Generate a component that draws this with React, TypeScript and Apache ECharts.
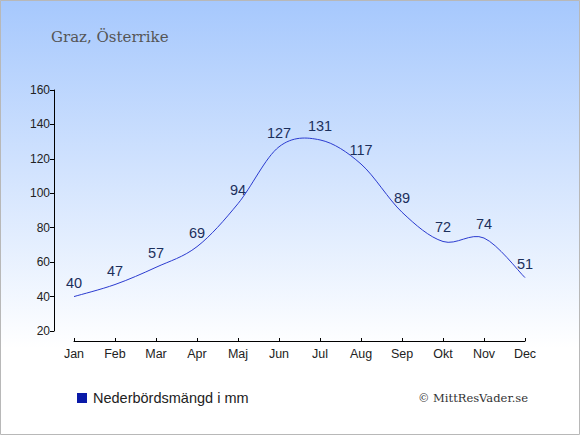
import React, { useEffect, useRef } from "react";
import * as echarts from "echarts";

const months = ["Jan", "Feb", "Mar", "Apr", "Maj", "Jun", "Jul", "Aug", "Sep", "Okt", "Nov", "Dec"];
const precipitation = [40, 47, 57, 69, 94, 127, 131, 117, 89, 72, 74, 51];
const titleText = "Graz, Österrike";
const legendText = "Nederbördsmängd i mm";
const creditText = "© MittResVader.se";

export default function App() {
  const ref = useRef<HTMLDivElement>(null);
  useEffect(() => {
    document.body.style.margin = "0";
    const chart = echarts.init(ref.current!, null, { renderer: "svg" });
    const renderCurve = (params: any, api: any) => {
      if (params.dataIndex !== 0) return null;
      const pts = precipitation.map((v, i) => api.coord([i, v]));
      const n = pts.length;
      let d = `M${pts[0][0]},${pts[0][1]}`;
      for (let i = 0; i < n - 1; i++) {
        const p0 = pts[Math.max(0, i - 1)];
        const p1 = pts[i];
        const p2 = pts[i + 1];
        const p3 = pts[Math.min(n - 1, i + 2)];
        const c1x = p1[0] + (p2[0] - p0[0]) / 6;
        const c1y = p1[1] + (p2[1] - p0[1]) / 6;
        const c2x = p2[0] - (p3[0] - p1[0]) / 6;
        const c2y = p2[1] - (p3[1] - p1[1]) / 6;
        d += ` C${c1x},${c1y} ${c2x},${c2y} ${p2[0]},${p2[1]}`;
      }
      return {
        type: "path",
        shape: { pathData: d },
        style: { fill: "none", stroke: "#2b3bd0", lineWidth: 1 },
      };
    };
    chart.setOption({
      animation: false,
      backgroundColor: {
        type: "linear",
        x: 0, y: 0, x2: 0, y2: 1,
        colorStops: [
          { offset: 0, color: "#a6c8fd" },
          { offset: 0.8, color: "#ffffff" },
          { offset: 1, color: "#ffffff" },
        ],
      },
      title: {
        text: titleText,
        left: 46,
        top: 24,
        textStyle: {
          fontFamily: "'DejaVu Serif', 'Liberation Serif', serif",
          fontWeight: "normal",
          fontSize: 15,
          color: "#555555",
        },
      },
      graphic: [
        {
          type: "rect",
          shape: { x: 0.5, y: 0.5, width: 579, height: 434 },
          style: { fill: "none", stroke: "#b8b8b8", lineWidth: 1 },
          silent: true,
        },
        {
          type: "rect",
          shape: { x: 77, y: 393, width: 10, height: 10 },
          style: { fill: "#0a1aa8" },
        },
        {
          type: "text",
          x: 93,
          y: 398,
          style: {
            text: legendText,
            fontFamily: "'Liberation Sans', Arial, sans-serif",
            fontSize: 14.5,
            fill: "#222222",
            verticalAlign: "middle",
          },
        },
        {
          type: "text",
          x: 528,
          y: 398,
          style: {
            text: creditText,
            fontFamily: "'DejaVu Serif', 'Liberation Serif', serif",
            fontSize: 11.5,
            fill: "#333333",
            align: "right",
            verticalAlign: "middle",
          },
        },
      ],
      grid: { left: 74, right: 55, top: 90, bottom: 104 },
      xAxis: {
        type: "category",
        data: months,
        boundaryGap: false,
        offset: 10,
        axisLine: { lineStyle: { color: "#000000", width: 1 } },
        axisTick: { inside: true, length: 3, alignWithLabel: true, lineStyle: { color: "#000" } },
        axisLabel: {
          color: "#222222",
          fontFamily: "'Liberation Sans', Arial, sans-serif",
          fontSize: 12.5,
          margin: 6,
        },
        splitLine: { show: false },
      },
      yAxis: {
        type: "value",
        min: 20,
        max: 160,
        interval: 20,
        offset: 20,
        axisLine: { show: true, lineStyle: { color: "#000000", width: 1 } },
        axisTick: { show: true, length: 4, lineStyle: { color: "#000" } },
        axisLabel: {
          color: "#222222",
          fontFamily: "'Liberation Sans', Arial, sans-serif",
          fontSize: 12,
          margin: 4,
        },
        splitLine: { show: false },
      },
      series: [
        {
          type: "custom",
          coordinateSystem: "cartesian2d",
          data: precipitation.map((v, i) => [i, v]),
          renderItem: renderCurve,
          silent: true,
          z: 2,
        },
        {
          type: "line",
          data: precipitation,
          showSymbol: true,
          symbol: "circle",
          symbolSize: 1,
          itemStyle: { color: "rgba(0,0,0,0)" },
          lineStyle: { width: 0, opacity: 0 },
          label: {
            show: true,
            position: "top",
            distance: 6,
            color: "#1c2f5c",
            fontFamily: "'Liberation Sans', Arial, sans-serif",
            fontSize: 14.5,
          },
          z: 3,
        },
      ],
    });
    return () => chart.dispose();
  }, []);
  return <div ref={ref} style={{ width: 580, height: 435 }} />;
}
